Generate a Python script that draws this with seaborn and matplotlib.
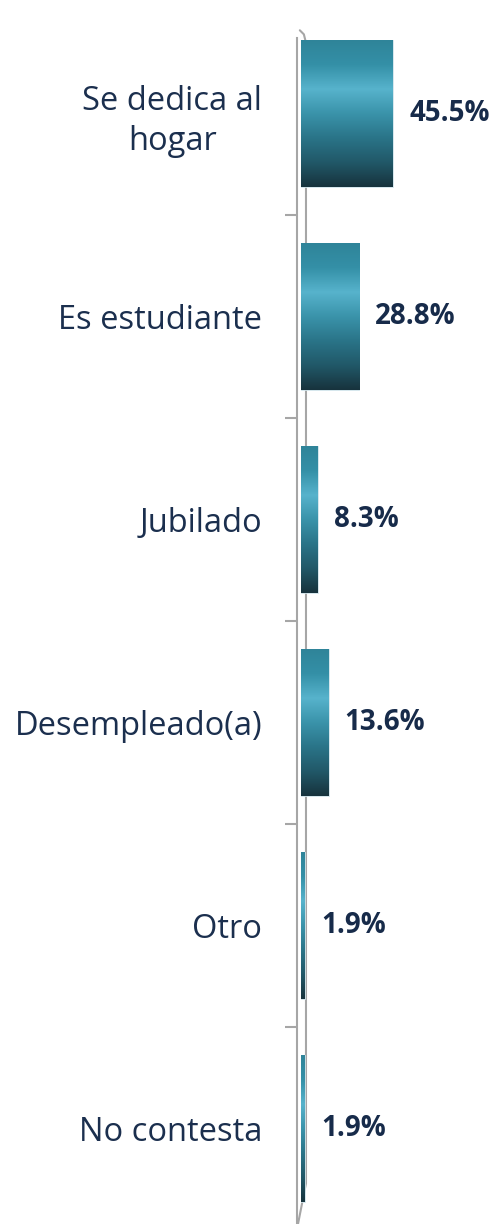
import numpy as np
import pandas as pd
import matplotlib
matplotlib.use('Agg')
import matplotlib.pyplot as plt
import seaborn as sns

# Données du graphique
categorias = ['Se dedica al\nhogar', 'Es estudiante', 'Jubilado', 'Desempleado(a)', 'Otro', 'No contesta']
porcentajes = [45.5, 28.8, 8.3, 13.6, 1.9, 1.9]
etiquetas = ['45.5%', '28.8%', '8.3%', '13.6%', '1.9%', '1.9%']

df = pd.DataFrame({'categoria': categorias, 'valor': porcentajes})

sns.set_style('white')
plt.rcParams['font.family'] = ['Open Sans', 'DejaVu Sans']

fig = plt.figure(figsize=(4.95, 12.24), dpi=100)
ax = fig.add_axes([297 / 495, 0.0, 198 / 495, 1186 / 1224])

sns.barplot(data=df, x='valor', y='categoria', orient='h', width=0.72,
            color='#2E8499', ax=ax, zorder=3)

# Dégradé vertical "cylindre" sur chaque barre
stops = ['#2F8499', '#3490A7', '#57B3CC', '#3A93AA', '#2A7488', '#215868', '#17333D']
cmap = matplotlib.colors.LinearSegmentedColormap.from_list('cyl', stops)
grad = np.linspace(0, 1, 256).reshape(-1, 1)
for p in ax.patches:
    x0, y0 = p.get_x(), p.get_y()
    w, h = p.get_width(), p.get_height()
    im = ax.imshow(grad, cmap=cmap, aspect='auto', origin='upper',
                   extent=[x0, x0 + w, y0 + h, y0], zorder=3)
    im.set_clip_path(p)
    p.set_facecolor('none')
    p.set_edgecolor('#CFE3EA')
    p.set_linewidth(0.6)

ax.set_xlim(-2, 96)
ax.set_ylim(5.47, -0.372)

# Étiquettes de valeur
for i, (v, t) in enumerate(zip(porcentajes, etiquetas)):
    ax.text(v + 8, i, t, va='center', ha='left', fontsize=20, fontweight='bold',
            color='#172B4A')

# Axe vertical style 3D (mur avant + mur arrière)
for s in ['top', 'right', 'bottom']:
    ax.spines[s].set_visible(False)
ax.spines['left'].set_color('#A6A6A6')
ax.spines['left'].set_linewidth(1.5)
ax.plot([-0.6, 1.4, 2.4, 2.45, 2.45, -1.5], [-0.41, -0.39, -0.35, -0.31, 5.27, 5.47],
        color='#A6A6A6', linewidth=1.5, zorder=1, clip_on=False)

ax.set_xticks([])
ax.set_yticks(range(len(categorias)))
ax.set_yticklabels(categorias)
ax.set_yticks([i + 0.5 for i in range(len(categorias) - 1)], minor=True)
ax.tick_params(axis='y', which='major', length=0, pad=25, labelsize=23.5, labelcolor='#1B2F4E')
ax.tick_params(axis='y', which='minor', length=9, width=1.5, color='#A6A6A6', left=True)
for t in ax.get_yticklabels():
    t.set_multialignment('center')
    t.set_linespacing(1.3)

ax.set_xlabel('')
ax.set_ylabel('')
ax.grid(False)

fig.savefig('out.png', dpi=100)
